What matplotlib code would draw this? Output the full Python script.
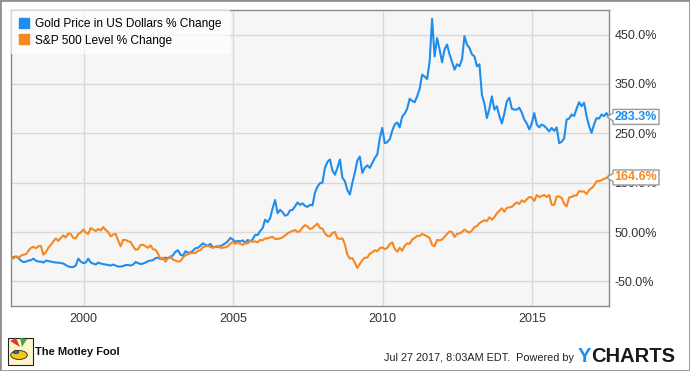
import numpy as np
import matplotlib.pyplot as plt
from matplotlib.lines import Line2D
from matplotlib.patches import Polygon, Rectangle, Circle

plt.rcParams['font.family'] = ['Liberation Sans', 'DejaVu Sans']

# monthly points, Jul 27 1997 .. Jul 27 2017 (% change from start)
start_year = 1997 + 6.87 / 12

gold_pct = [
    0, -1, 0, -3, -8, -11,
    -10, -8, -7, -4, -8, -10, -10, -12, -8, -9, -10, -11,
    -12, -12, -13, -14, -17, -20, -21, -21, -18, -4, -10, -13,
    -12, -4, -12, -14, -16, -12, -14, -15, -16, -17, -18, -16,
    -18, -20, -20, -19, -17, -17, -18, -16, -11, -13, -15, -14,
    -12, -9, -8, -7, -3, -2, -5, -5, -2, -3, -2, 3,
    10, 13, 4, 2, 11, 8, 8, 12, 17, 18, 22, 27,
    24, 22, 26, 19, 20, 20, 21, 24, 27, 31, 38, 35,
    30, 32, 31, 33, 28, 34, 31, 35, 44, 44, 52, 58,
    75, 70, 78, 98, 115, 88, 95, 90, 83, 85, 94, 95,
    102, 110, 105, 108, 103, 101, 105, 104, 130, 142, 149, 150,
    180, 192, 197, 175, 166, 180, 197, 160, 153, 135, 126, 150,
    170, 195, 203, 170, 180, 185, 180, 190, 200, 207, 240, 261,
    230, 232, 238, 255, 268, 272, 262, 284, 290, 300, 320, 316,
    313, 325, 340, 369, 365, 360, 395, 482, 406, 443, 420, 394,
    420, 430, 410, 395, 379, 390, 386, 400, 447, 430, 423, 410,
    406, 386, 390, 328, 310, 281, 300, 325, 298, 305, 285, 270,
    290, 315, 322, 300, 298, 298, 302, 292, 278, 270, 258, 270,
    291, 268, 262, 268, 265, 260, 254, 261, 255, 262, 230, 233,
    240, 278, 280, 288, 285, 300, 313, 305, 312, 285, 265, 251,
    268, 281, 280, 288, 285, 291, 283.3,
]

sp500_pct = [
    0, -4, 1, -2, 2, 4,
    5, 12, 18, 20, 17, 21, 22, 4, 9, 18, 24, 31,
    37, 32, 38, 43, 39, 47, 46, 38, 37, 46, 49, 55,
    49, 46, 58, 55, 52, 56, 53, 60, 54, 50, 41, 45,
    46, 33, 21, 34, 34, 31, 30, 21, 14, 15, 24, 24,
    21, 18, 23, 15, 14, 6, -5, -2, -10, -3, 1, -6,
    -8, -10, -9, -2, 3, 5, 7, 8, 7, 12, 13, 19,
    21, 22, 20, 18, 20, 22, 18, 18, 19, 21, 26, 30,
    26, 29, 26, 24, 27, 27, 32, 30, 31, 29, 34, 33,
    37, 37, 39, 40, 36, 36, 37, 39, 43, 47, 50, 52,
    54, 50, 52, 59, 64, 61, 56, 58, 63, 67, 58, 57,
    47, 42, 41, 48, 50, 37, 36, 37, 25, 4, -4, -3,
    -12, -23, -15, -7, -2, -2, 6, 9, 13, 11, 17, 19,
    15, 18, 25, 29, 16, 10, 18, 12, 22, 27, 26, 35,
    38, 42, 42, 46, 44, 41, 38, 24, 21, 34, 33, 35,
    40, 46, 51, 50, 40, 46, 47, 50, 55, 51, 49, 53,
    60, 62, 68, 71, 74, 72, 80, 75, 80, 88, 93, 98,
    91, 99, 100, 101, 106, 110, 107, 114, 111, 116, 121, 120,
    113, 125, 121, 123, 125, 121, 125, 105, 105, 122, 122, 119,
    107, 102, 120, 121, 124, 124, 133, 132, 132, 127, 135, 139,
    144, 153, 153, 155, 158, 159, 164.6,
]

series_names = ['Gold Price in US Dollars % Change', 'S&P 500 Level % Change']
end_labels = ['283.3%', '164.6%']
year_ticks = [2000, 2005, 2010, 2015]
pct_ticks = [-50, 50, 150, 250, 350, 450]
pct_labels = ['-50.0%', '50.00%', '150.0%', '250.0%', '350.0%', '450.0%']
timestamp = 'Jul 27 2017, 8:03AM EDT.  Powered by'

gold_color = '#1f8ded'
sp_color = '#f7871f'
colors = [gold_color, sp_color]

W, H = 690, 371
ymin, ymax = -100, 500
ax_l, ax_b, ax_w, ax_h = 11 / W, 1 - 306 / H, 598 / W, 296 / H

fig = plt.figure(figsize=(W / 100, H / 100), dpi=100)
ax = fig.add_axes([ax_l, ax_b, ax_w, ax_h])
ax.set_facecolor('#f6f6f6')

t = start_year + np.arange(len(gold_pct)) / 12
ax.plot(t, gold_pct, color=gold_color, lw=1.5, zorder=3)
ax.plot(t, sp500_pct, color=sp_color, lw=1.5, zorder=3)

ax.set_xlim(t[0], t[-1])
ax.set_ylim(ymin, ymax)
ax.set_xticks(year_ticks)
ax.set_xticklabels([str(y) for y in year_ticks])
ax.set_yticks(pct_ticks)
ax.set_yticklabels(pct_labels)
ax.yaxis.tick_right()
ax.tick_params(length=0, labelsize=9, labelcolor='#333333')
ax.tick_params(axis='y', pad=4)
ax.tick_params(axis='x', pad=5)
ax.grid(True, color='#d9d9d9', lw=1)
ax.set_axisbelow(True)
for s in ax.spines.values():
    s.set_color('#8a8a8a')
    s.set_linewidth(1)

handles = [Line2D([], [], marker='s', linestyle='none', markersize=7, color=c) for c in colors]
leg = ax.legend(handles, series_names, loc='upper left', bbox_to_anchor=(0, 1),
                borderaxespad=0, frameon=True, fancybox=False, facecolor='white',
                framealpha=0.7, edgecolor='none', fontsize=8.6, handlelength=0.8,
                handletextpad=0.6, borderpad=0.65, labelspacing=0.4)
leg.get_frame().set_linewidth(0)


def end_label(value, text, color, dy=0):
    y = (ax_b + (value - ymin) / (ymax - ymin) * ax_h) * H + dy
    pts = [(607, y), (613, y + 4), (613, y + 7.5), (659, y + 7.5),
           (659, y - 7.5), (613, y - 7.5), (613, y - 4)]
    fig.add_artist(Polygon([(px / W, py / H) for px, py in pts], closed=True,
                           transform=fig.transFigure, fc='white', ec='#9a9a9a',
                           lw=1, zorder=5))
    fig.text(636 / W, y / H, text, color=color, fontsize=9, fontweight='bold',
             ha='center', va='center', zorder=6)


end_label(gold_pct[-1], end_labels[0], gold_color)
end_label(sp500_pct[-1], end_labels[1], sp_color, dy=-2)

# footer: Motley Fool mark
fig.add_artist(Rectangle((8 / W, 6 / H), 25 / W, 27 / H, transform=fig.transFigure,
                         fc='#fff6c8', ec='#222222', lw=0.8))
fig.add_artist(Polygon([(10 / W, 30 / H), (16 / W, 33 / H), (20 / W, 24 / H)],
                       transform=fig.transFigure, fc='#d93a2b', ec='none'))
fig.add_artist(Polygon([(20 / W, 33 / H), (27 / W, 32 / H), (22 / W, 24 / H)],
                       transform=fig.transFigure, fc='#3aa845', ec='none'))
fig.add_artist(Circle((19 / W, 16 / H), 0.012, transform=fig.transFigure,
                      fc='#f2c81d', ec='#222222', lw=0.6))
fig.add_artist(Circle((16 / W, 19 / H), 0.004, transform=fig.transFigure,
                      fc='#2a6fd6', ec='#222222', lw=0.5))
fig.text(35 / W, 19 / H, 'The Motley Fool', fontsize=8, fontweight='bold',
         color='#111111', ha='left', va='center')

fig.text(574 / W, 13 / H, timestamp, fontsize=7.8, color='#222222', ha='right', va='center')
ty = fig.text(578 / W, 9 / H, 'Y', fontsize=14.5, fontweight='bold', color=gold_color,
              ha='left', va='baseline')
fig.canvas.draw()
bb = ty.get_window_extent()
fig.text(bb.x1 / W, 9 / H, 'CHARTS', fontsize=14.5, fontweight='bold', color='#1a1a1a',
         ha='left', va='baseline')

fig.add_artist(Rectangle((0, 0), 1, 1, transform=fig.transFigure, fill=False,
                         ec='#8f8f8f', lw=2))

fig.savefig('out.png', dpi=100)
